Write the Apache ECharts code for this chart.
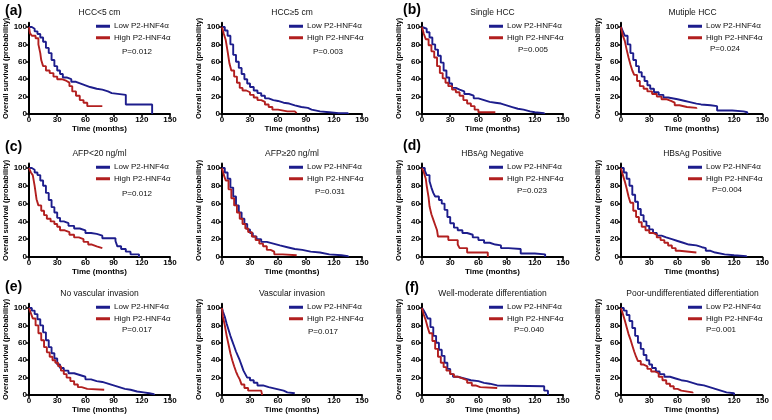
<!DOCTYPE html>
<html><head><meta charset="utf-8">
<script src="https://cdn.jsdelivr.net/npm/echarts/dist/echarts.min.js"></script>
<style>html,body{margin:0;padding:0;background:#fff}#c{width:772px;height:420px}</style>
</head><body><div id="c"></div>
<script>
// ---------- DATA ----------
const seriesNames = ['Low P2-HNF4α', 'High P2-HNF4α'];
const panelTitles = ['HCC<5 cm', 'HCC≥5 cm', 'Single HCC', 'Mutiple HCC',
  'AFP<20 ng/ml', 'AFP≥20 ng/ml', 'HBsAg Negative', 'HBsAg Positive',
  'No vascular invasion', 'Vascular invasion', 'Well-moderate differentiation', 'Poor-undifferentiated differentiation'];
const pValues = ['P=0.012', 'P=0.003', 'P=0.005', 'P=0.024', 'P=0.012', 'P=0.031',
  'P=0.023', 'P=0.004', 'P=0.017', 'P=0.017', 'P=0.040', 'P=0.001'];
const panelLetters = ['(a)', '(b)', '(c)', '(d)', '(e)', '(f)'];
const xTicks = [0, 30, 60, 90, 120, 150];
const yTicks = [0, 20, 40, 60, 80, 100];
const xLabel = 'Time (months)';
const yLabel = 'Overall survival (probability)';

const low1 = [[0,100],[3,98],[6,95],[9,92],[12,88],[15,83],[18,76],[21,70],[24,62],[27,55],[30,50],[33,46],[36,42],[40,40],[45,37],[50,35],[55,33],[60,31],[65,29],[72,28],[78,26],[84,24],[88,22],[103,11],[131,0]];
const high1 = [[0,100],[1,93],[3,90],[7,87],[10,80],[12,70],[13,62],[15,55],[18,50],[22,47],[26,43],[30,40],[35,38],[40,36],[43,32],[46,26],[50,21],[54,16],[58,13],[62,9],[78,9]];
const low2 = [[0,100],[3,96],[6,90],[9,80],[12,68],[15,60],[18,53],[21,46],[24,40],[27,35],[30,31],[34,27],[38,24],[42,21],[46,18],[50,16],[55,15],[60,13],[66,12],[72,10],[78,8],[85,7],[92,5],[96,3],[105,2],[115,1],[125,1],[135,0]];
const high2 = [[0,100],[2,92],[4,85],[6,72],[8,58],[10,50],[13,43],[16,36],[19,30],[22,27],[26,25],[30,22],[34,19],[38,16],[42,14],[46,11],[50,8],[54,5],[60,3],[70,3],[78,2],[80,1]];
const low3 = [[0,100],[2,98],[5,94],[8,88],[11,80],[14,74],[17,67],[20,59],[23,50],[26,42],[29,35],[32,30],[36,28],[40,26],[45,23],[50,21],[55,18],[60,16],[66,14],[72,13],[78,12],[84,10],[90,8],[96,6],[102,5],[108,3],[115,2],[120,1],[130,0]];
const high3 = [[0,100],[2,92],[4,86],[7,79],[10,72],[13,65],[16,55],[19,47],[22,41],[25,36],[28,32],[32,28],[36,25],[40,21],[44,16],[48,12],[52,9],[56,5],[60,2],[78,2]];
const low4 = [[0,100],[2,95],[4,90],[7,80],[10,70],[13,62],[16,55],[19,48],[22,43],[25,38],[28,33],[31,29],[35,25],[40,22],[45,19],[50,17],[60,15],[68,14],[72,12],[80,11],[85,10],[95,9],[102,4],[118,3],[130,2],[134,0]];
const high4 = [[0,100],[2,90],[4,84],[6,74],[8,65],[10,57],[12,50],[14,45],[17,38],[20,32],[24,29],[28,26],[33,23],[38,20],[43,17],[48,15],[53,13],[57,10],[62,8],[70,7],[80,6]];
const low5 = [[0,100],[3,98],[6,95],[9,92],[12,86],[15,80],[18,72],[21,64],[24,56],[27,50],[30,44],[33,40],[37,38],[42,35],[48,32],[54,30],[60,27],[66,26],[72,24],[78,21],[92,18],[94,12],[98,9],[103,6],[108,3],[117,0]];
const high5 = [[0,100],[2,95],[4,92],[6,80],[8,65],[10,58],[13,52],[16,47],[19,43],[23,40],[27,37],[30,34],[33,30],[38,28],[43,25],[48,22],[53,20],[58,17],[63,14],[67,12],[72,10],[78,10]];
const low6 = [[0,100],[3,95],[6,88],[9,78],[12,68],[15,58],[18,50],[21,43],[24,37],[27,31],[30,27],[33,23],[37,20],[42,17],[48,15],[55,13],[62,11],[70,9],[78,8],[86,6],[95,5],[105,3],[115,2],[128,1],[135,0]];
const high6 = [[0,100],[2,92],[4,86],[7,76],[10,66],[13,58],[16,50],[19,43],[22,37],[25,32],[28,28],[32,23],[36,19],[40,15],[44,12],[48,8],[52,6],[56,3],[65,2],[80,2]];
const low7 = [[0,100],[3,97],[5,92],[8,85],[10,78],[12,72],[14,68],[18,64],[21,60],[24,53],[27,45],[30,38],[34,33],[38,30],[43,27],[48,25],[54,22],[60,19],[66,16],[72,14],[78,13],[84,10],[92,9],[105,4],[120,3],[131,0]];
const high7 = [[0,100],[2,95],[4,88],[5,80],[7,67],[8,57],[10,48],[12,42],[14,36],[16,30],[17,23],[28,19],[38,14],[40,10],[48,5],[70,0]];
const low8 = [[0,100],[3,95],[6,88],[9,80],[12,70],[15,62],[18,54],[21,47],[24,40],[27,35],[30,31],[34,27],[38,24],[43,22],[48,20],[54,18],[60,16],[66,14],[72,13],[80,11],[86,10],[90,7],[95,5],[100,3],[110,2],[120,1],[133,0]];
const high8 = [[0,100],[2,92],[4,85],[6,77],[8,68],[10,61],[13,52],[16,45],[19,39],[22,34],[26,30],[30,27],[34,25],[38,22],[42,19],[46,16],[50,13],[54,10],[58,7],[62,5],[80,5]];
const low9 = [[0,100],[3,97],[6,93],[9,87],[12,80],[15,72],[18,63],[21,55],[24,48],[27,42],[30,35],[33,31],[37,28],[42,25],[48,23],[54,21],[60,18],[66,16],[72,15],[78,13],[84,11],[90,9],[96,7],[102,6],[108,4],[115,3],[122,2],[128,1],[133,0]];
const high9 = [[0,100],[2,94],[4,88],[7,80],[10,71],[13,63],[16,55],[19,49],[22,44],[25,40],[28,37],[31,33],[34,28],[37,24],[40,20],[44,16],[48,12],[52,9],[56,7],[62,6],[80,6]];
const low10 = [[0,100],[1,96],[3,90],[5,82],[7,75],[9,68],[11,62],[13,56],[15,50],[17,45],[19,40],[21,34],[23,28],[25,24],[27,20],[30,17],[34,14],[38,11],[44,9],[50,7],[58,5],[66,3],[70,2],[78,2]];
const high10 = [[0,100],[1,90],[3,80],[5,68],[7,58],[9,48],[11,40],[13,33],[15,27],[17,22],[19,18],[21,12],[24,8],[28,5],[42,3],[43,0]];
const low11 = [[0,100],[2,97],[4,93],[6,88],[9,78],[12,68],[15,60],[18,52],[21,45],[24,37],[27,30],[30,24],[33,21],[38,19],[45,17],[52,16],[60,14],[66,13],[72,11],[80,10],[130,5],[134,0]];
const high11 = [[0,100],[2,92],[4,86],[6,78],[8,71],[11,62],[14,53],[17,44],[20,37],[23,32],[26,28],[30,24],[34,21],[38,19],[43,17],[48,14],[53,11],[57,9],[62,8],[80,8]];
const low12 = [[0,100],[3,97],[6,92],[9,85],[12,77],[15,68],[18,60],[21,53],[24,46],[27,40],[30,35],[33,31],[37,27],[41,24],[46,21],[52,19],[58,17],[64,16],[70,14],[76,12],[82,11],[88,9],[94,7],[100,5],[106,3],[112,2],[120,0]];
const high12 = [[0,100],[2,93],[4,86],[6,78],[8,70],[10,64],[12,57],[14,50],[16,44],[18,39],[21,35],[24,33],[28,30],[32,27],[36,25],[40,21],[44,17],[48,13],[52,10],[56,7],[60,5],[64,3],[76,2]];

const lowData = [low1, low2, low3, low4, low5, low6, low7, low8, low9, low10, low11, low12];
const highData = [high1, high2, high3, high4, high5, high6, high7, high8, high9, high10, high11, high12];

// ---------- LAYOUT ----------
const colX = [[29, 170], [222, 362], [422, 563], [621, 764]];
const rowY = [[27, 114], [168, 257], [308, 395]];
const pOffset = [[108, 24], [106, 24], [111, 22], [104, 21], [108, 25], [108, 23], [110, 22], [106, 21], [108, 21], [101, 23], [107, 21], [100, 21]];
const titleY = [13, 154, 294];
const yNameGap = [14, 18, 17, 19];
const letterPos = [[5, 12], [403, 11], [5, 148], [403, 147], [5, 288], [405, 289]];
const YMAX = 105;
const FF = '"Liberation Sans", Arial, sans-serif';
const BLUE = '#1d1d8c', RED = '#b21f1f';

const grids = [], xAxes = [], yAxes = [], series = [], titles = [], legends = [], graphics = [];
for (let i = 0; i < 12; i++) {
  const r = Math.floor(i / 4), c = i % 4;
  const [x0, x1] = colX[c];
  const [y100, y0] = rowY[r];
  const top = y100 - (YMAX - 100) / 100 * (y0 - y100);
  grids.push({ left: x0, top: top, width: x1 - x0, height: y0 - top, containLabel: false });
  xAxes.push({ type: 'value', gridIndex: i, min: 0, max: 150, interval: 30,
    axisLine: { show: true, onZero: false, lineStyle: { color: '#000', width: 2 } },
    axisTick: { show: true, length: 3, lineStyle: { color: '#000', width: 1.5 }, customValues: xTicks },
    axisLabel: { fontSize: 8, fontWeight: 'bold', color: '#000', margin: 2, fontFamily: FF, customValues: xTicks },
    splitLine: { show: false },
    name: xLabel, nameLocation: 'middle', nameGap: 10,
    nameTextStyle: { fontSize: 8, fontWeight: 'bold', color: '#000', fontFamily: FF } });
  yAxes.push({ type: 'value', gridIndex: i, min: 0, max: YMAX, interval: 20,
    axisLine: { show: true, onZero: false, lineStyle: { color: '#000', width: 2 } },
    axisTick: { show: true, length: 3, lineStyle: { color: '#000', width: 1.5 }, customValues: yTicks },
    axisLabel: { fontSize: 8, fontWeight: 'bold', color: '#000', margin: 2, fontFamily: FF, customValues: yTicks },
    splitLine: { show: false },
    name: yLabel, nameLocation: 'middle', nameGap: yNameGap[c],
    nameTextStyle: { fontSize: 7.5, fontWeight: 'bold', color: '#000', fontFamily: FF } });
  series.push({ name: seriesNames[0], type: 'line', step: 'end', xAxisIndex: i, yAxisIndex: i,
    data: lowData[i], showSymbol: false, symbol: 'none', color: BLUE,
    lineStyle: { color: BLUE, width: 1.9 }, z: 3, silent: true, animation: false });
  series.push({ name: seriesNames[1], type: 'line', step: 'end', xAxisIndex: i, yAxisIndex: i,
    data: highData[i], showSymbol: false, symbol: 'none', color: RED,
    lineStyle: { color: RED, width: 1.9 }, z: 4, silent: true, animation: false });
  titles.push({ text: panelTitles[i], left: (x0 + x1) / 2, top: titleY[r] - 5, textAlign: 'center', padding: 0,
    textStyle: { fontSize: 8.5, fontWeight: 'normal', color: '#111', fontFamily: FF } });
  legends.push({ orient: 'vertical', left: x0 + 67, top: y100 - 6.5, padding: 0, itemGap: 0,
    itemWidth: 14, itemHeight: 3, icon: 'rect', selectedMode: false,
    textStyle: { fontSize: 8, color: '#111', fontFamily: FF, lineHeight: 11.5, padding: [0, 0, 0, -1] },
    data: [{ name: seriesNames[0], itemStyle: { color: BLUE } }, { name: seriesNames[1], itemStyle: { color: RED } }] });
  graphics.push({ type: 'text', left: x0 + pOffset[i][0] - 15, top: y100 + pOffset[i][1] - 3,
    style: { text: pValues[i], fontSize: 8, fill: '#111', fontFamily: FF } });
}
panelLetters.forEach((t, k) => {
  graphics.push({ type: 'text', left: letterPos[k][0], top: letterPos[k][1] - 8,
    style: { text: t, fontSize: 14, fontWeight: 'bold', fill: '#000', fontFamily: FF } });
});

const chart = echarts.init(document.getElementById('c'), null, { renderer: 'canvas' });
chart.setOption({
  animation: false,
  backgroundColor: '#fff',
  title: titles,
  legend: legends,
  grid: grids,
  xAxis: xAxes,
  yAxis: yAxes,
  series: series,
  graphic: graphics
});
</script>
</body></html>
